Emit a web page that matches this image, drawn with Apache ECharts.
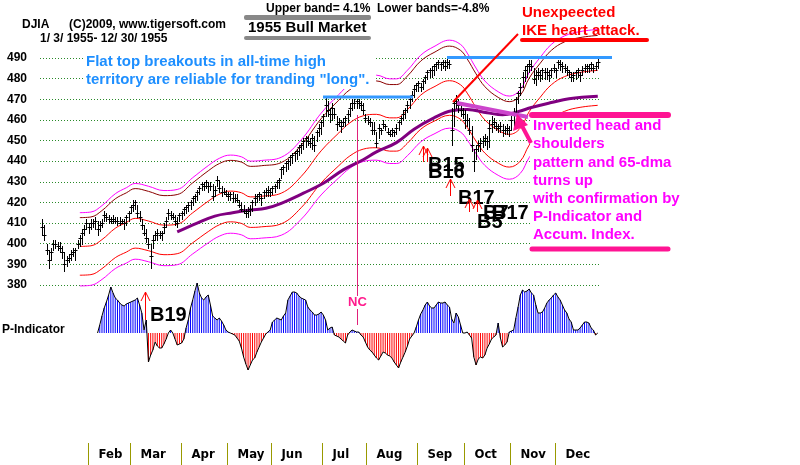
<!DOCTYPE html>
<html>
<head>
<meta charset="utf-8">
<script src="https://cdn.jsdelivr.net/npm/echarts@6/dist/echarts.min.js"></script>
<style>
  html, body { margin: 0; padding: 0; background: #fff; }
  #main { width: 800px; height: 465px; }
</style>
</head>
<body>
<div id="main"></div>
<script>
// DJIA 1955, one entry per trading day (index 0 = Jan 3)
var high = [
  412,409,400,397,398,402,402,401,401,399, 396,394,395,397,398,398,402,404,407,409,
  412,410,412,412,413,411,411,412,416,415, 414,413,414,413,413,413,412,412,414,416,
  419,421,421,419,416,412,409,407,403,400, 404,406,407,406,406,410,413,417,416,415,
  414,413,415,416,418,419,420,421,423,424, 426,428,430,430,431,430,430,429,428,433,
  431,428,427,426,425,425,425,424,424,421, 420,419,417,418,419,421,424,424,425,424,
  426,427,428,427,428,429,431,432,437,438, 440,441,443,444,445,446,448,449,451,452,
  452,451,453,452,455,458,460,463,471,469, 466,468,466,462,461,460,461,462,465,468,
  470,470,470,470,469,468,463,462,461,459, 459,454,458,456,460,458,456,455,456,455,
  458,460,462,465,466,469,471,474,477,478, 479,478,480,482,484,485,486,487,488,489,
  488,489,489,490,489,466,470,472,470,468, 466,465,463,461,457,446,448,450,451,452,
  453,452,460,462,461,459,458,459,458,457, 458,457,462,466,471,474,478,483,486,487,
  489,489,485,484,485,484,485,485,485,484, 485,487,485,489,489,488,487,486,484,483,
  483,484,485,483,486,487,487,487,488,487, 488,490
];
var low = [
  404,402,395,388,392,397,398,397,396,393, 387,389,391,392,394,392,398,399,400,404,
  407,405,407,408,407,404,406,408,411,411, 410,410,410,410,409,409,410,407,409,411,
  415,416,417,413,411,407,404,401,398,388, 398,402,402,403,402,405,408,412,412,412,
  409,408,411,412,414,415,416,417,419,420, 421,424,426,426,427,425,426,421,423,428,
  425,423,424,423,421,421,420,420,420,418, 416,415,413,413,414,416,419,420,421,419,
  422,423,423,423,424,425,427,427,432,434, 435,436,438,439,440,441,443,444,446,447,
  448,447,446,445,450,452,453,457,462,462, 459,460,461,455,457,454,457,457,459,462,
  465,466,466,466,465,463,459,458,457,453, 453,447,451,453,456,455,453,452,452,452,
  453,455,458,460,461,464,466,469,471,474, 474,474,475,478,480,481,481,482,484,485,
  484,485,484,485,485,448,457,466,464,462, 461,456,457,453,445,435,441,445,445,447,
  448,446,447,454,456,455,454,454,452,453, 453,452,455,457,463,468,472,476,479,481,
  483,484,478,477,480,479,480,480,480,479, 481,483,481,485,484,483,483,482,481,479,
  479,480,481,479,482,483,483,483,484,483, 484,485
];
var close = [
  408,404,397,392,396,400,400,399,398,396, 390,392,393,395,396,397,400,403,405,407,
  410,408,410,410,411,407,409,410,414,413, 412,411,412,411,411,410,411,410,413,415,
  418,419,420,415,413,409,405,403,400,394, 402,404,405,404,405,408,411,415,414,413,
  411,410,414,415,417,418,419,420,422,423, 425,427,429,428,430,428,428,423,426,431,
  427,425,425,424,423,424,422,422,421,419, 417,416,415,416,417,420,422,423,424,422,
  425,425,426,425,427,428,430,431,436,437, 439,440,442,443,444,445,447,448,450,451,
  450,449,451,448,454,456,459,462,467,465, 463,466,463,458,459,457,459,461,463,466,
  468,468,469,468,467,465,461,460,459,455, 455,449,456,455,458,457,454,453,455,454,
  456,459,461,463,465,467,470,472,475,477, 478,476,479,481,483,484,484,486,487,488,
  487,488,486,488,487,455,468,469,467,465, 463,460,460,455,448,440,446,448,449,450,
  451,450,456,458,459,457,456,457,455,455, 456,455,460,464,470,473,476,481,484,486,
  487,486,480,482,483,482,484,483,483,482, 484,485,484,488,487,486,485,484,483,481,
  482,483,484,482,484,485,486,485,487,485, 486,488
];

// band centre line and 65-dma, [day index, value]
var bandMid = [
  [17,398.7],[22,399],[27,402],[33,407.5],[38,410.3],[42,412.3],[48,411],[55,409],
  [61,409.5],[68,415],[75,420.6],[80,424],[85,425.5],[90,424.7],[94,422.7],[99,423],
  [108,424.5],[117,432.6],[126,445],[134,453.7],[139,458.6],[145,462],[151,462.7],
  [157,461],[160,461],[165,465],[171,472],[177,476],[184,479],[189,477],[192,473],
  [196,466],[200,460],[206,455],[211,453],[216,456],[220,464],[225,471],[230,477],
  [236,481],[243,483],[251,484]
];
var dma65 = [
  [61,405.7],[70,410],[78,413.4],[86,415],[94,416.3],[101,417.2],[108,419.6],[118,424.5],
  [127,429.3],[136,435.8],[145,440.7],[151,444.5],[160,449],[168,455.5],[177,461],
  [185,464.4],[192,465],[201,463.5],[208,462.5],[215,464],[221,466],[230,468.4],
  [238,470.3],[251,471.5]
];
var bandPct = [0.041, 0.035, -0.035, -0.048];
var bandColor = ['#ff00ff', '#8b0000', '#ff0000', '#ff00ff'];

// P-Indicator, starts at day 25
var pStart = 25;
var pInd = [
  0, 8, 17, 25, 31, 38, 46, 40, 35, 33,
  30, 28, 27, 29, 30, 31, 32, 33, 35, 28,
  20, 3, 13, -29, -22, -17, -9, -13, -15, -15,
  -11, -6, 0, 3, 0, -6, -12, -11, -10, -6,
  5, 13, 25, 33, 42, 50, 40, 35, 33, 36,
  38, 28, 17, 15, 13, 15, 12, 8, 3, 1,
  0, -1, -2, -5, -8, -15, -24, -31, -37, -32,
  -27, -25, -19, -14, -9, -5, -1, 1, 3, 11,
  13, 15, 14, 13, 17, 20, 33, 37, 41, 41,
  40, 37, 35, 34, 33, 26, 23, 21, 18, 18,
  19, 21, 18, 13, 3, 5, 6, -2, -3, -4,
  -6, -8, -10, -2, 1, 3, 2, 1, 1, -2,
  -4, -9, -14, -17, -19, -22, -25, -27, -23, -19,
  -20, -22, -23, -25, -29, -32, -35, -29, -24, -19,
  -13, -6, -3, 0, 6, 13, 19, 23, 28, 31,
  27, 25, 25, 28, 31, 30, 30, 31, 28, 26,
  14, 10, 20, 16, 8, 0, 0, 1, -2, -5,
  -24, -32, -26, -24, -25, -22, -15, -11, -6, -4,
  -2, 10, -5, -14, -12, -9, 1, 2, 3, 15,
  26, 38, 43, 41, 42, 44, 40, 38, 28, 20,
  20, 21, 25, 30, 33, 35, 38, 40, 36, 33,
  28, 23, 20, 14, 11, 3, 3, 3, 5, 8,
  11, 11, 10, 5, 3, -2, 0
];

var months = ['Feb','Mar','Apr','May','Jun','Jul','Aug','Sep','Oct','Nov','Dec'];
var monthStart = [21, 40, 63, 84, 104, 127, 147, 170, 191, 212, 232];
var priceTicks = { min: 380, max: 490, step: 10 };

var FONT = '"Liberation Sans", Arial, sans-serif';

var ohlc = high.map(function (h, i) { return [i, h, low[i], close[i]]; });

var series = [];
series.push({
  type: 'custom', xAxisIndex: 0, yAxisIndex: 0, z: 5,
  data: ohlc,
  encode: { x: 0, y: [1, 2] },
  clip: false,
  renderItem: function (params, api) {
    var i = api.value(0);
    var ph = api.coord([i, api.value(1)]);
    var pl = api.coord([i, api.value(2)]);
    var pc = api.coord([i, api.value(3)]);
    var x = Math.round(ph[0]) + 0.5;
    var yc = Math.round(pc[1]) + 0.5;
    return {
      type: 'group',
      children: [
        { type: 'line', shape: { x1: x, y1: Math.round(ph[1]), x2: x, y2: Math.round(pl[1]) + 1 },
          style: { stroke: '#000', lineWidth: 1 } },
        { type: 'line', shape: { x1: x - 2, y1: yc, x2: x + 2, y2: yc },
          style: { stroke: '#000', lineWidth: 1 } }
      ]
    };
  }
});

bandPct.concat([0]).forEach(function (pct, k) {
  series.push({
    type: 'line', xAxisIndex: 0, yAxisIndex: 0, z: 3,
    data: bandMid.map(function (d) { return [d[0], +(d[1] * (1 + pct)).toFixed(2)]; }),
    smooth: 0.4, showSymbol: false, clip: false, silent: true,
    lineStyle: { color: k < 4 ? bandColor[k] : '#ff0000', width: 1 }
  });
});

series.push({
  type: 'line', xAxisIndex: 0, yAxisIndex: 0, z: 4,
  data: dma65, smooth: 0.4, showSymbol: false, clip: false,
  lineStyle: { color: '#800080', width: 3 }
});

series.push({
  type: 'bar', xAxisIndex: 1, yAxisIndex: 1, barWidth: 1,
  data: pInd.map(function (v, k) {
    return { value: [pStart + k, v], itemStyle: { color: v >= 0 ? '#0000ff' : '#ff0000' } };
  })
});
series.push({
  type: 'line', xAxisIndex: 1, yAxisIndex: 1, z: 4,
  data: pInd.map(function (v, k) { return [pStart + k, v]; }),
  showSymbol: false, lineStyle: { color: '#000', width: 1 }
});

series.push({
  type: 'custom', xAxisIndex: 2, yAxisIndex: 2,
  data: monthStart.map(function (s) { return [s - 0.5, 0]; }),
  renderItem: function (params, api) {
    var p = api.coord([api.value(0), 0]);
    var cs = params.coordSys;
    var x = Math.round(p[0]) + 0.5;
    return {
      type: 'group',
      children: [
        { type: 'line', shape: { x1: x, y1: cs.y, x2: x, y2: cs.y + cs.height },
          style: { stroke: '#999900', lineWidth: 1 } },
        { type: 'text', style: { text: months[params.dataIndex], x: x + 10, y: cs.y + cs.height / 2 + 1,
          verticalAlign: 'middle', fill: '#000',
          font: 'bold 13px "Liberation Sans Narrow", "DejaVu Sans Condensed", sans-serif' } }
      ]
    };
  }
});

// annotations
function txt(t, x, y, size, color) {
  return { type: 'text', z: 100, style: { text: t, x: x, y: y, verticalAlign: 'middle',
    fill: color || '#000', font: 'bold ' + size + 'px ' + FONT } };
}
function seg(x1, y1, x2, y2, color, w, cap) {
  return { type: 'line', z: 100, shape: { x1: x1, y1: y1, x2: x2, y2: y2 },
    style: { stroke: color, lineWidth: w, lineCap: cap || 'butt' } };
}
function upArrow(x, y, len, color) {
  return [
    seg(x + 0.5, y, x + 0.5, y + len, color, 1),
    { type: 'polyline', z: 100, shape: { points: [[x - 4, y + 9], [x + 0.5, y], [x + 5, y + 9]] },
      style: { stroke: color, lineWidth: 1, fill: null } }
  ];
}
function whiteBox(x, y, w, h) {
  return { type: 'rect', z: 50, shape: { x: x, y: y, width: w, height: h }, style: { fill: '#fff' } };
}

var magenta = '#ff00ff';
var pink = '#ff1493';
var graphic = [
  whiteBox(84, 52, 292, 37),
  whiteBox(530, 118, 155, 126),
  txt('DJIA', 22, 25, 12),
  txt('(C)2009, www.tigersoft.com', 69, 25, 12),
  txt('1/ 3/ 1955- 12/ 30/ 1955', 40, 39, 12),
  txt('Upper band= 4.1%  Lower bands=-4.8%', 266, 9, 12),
  { type: 'rect', z: 100, shape: { x: 244, y: 15, width: 127, height: 5, r: 2 }, style: { fill: '#888' } },
  { type: 'rect', z: 100, shape: { x: 244, y: 36, width: 127, height: 4, r: 2 }, style: { fill: '#888' } },
  txt('1955 Bull Market', 248, 28, 15),
  txt('Flat top breakouts in all-time high', 86, 62, 15, '#1e8fff'),
  txt('territory are reliable for tranding "long".', 86, 80, 15, '#1e8fff'),
  seg(323, 97, 413, 97, '#3399ff', 3),
  seg(447, 57.5, 612, 57.5, '#3399ff', 3),
  txt('Unexpeected', 522, 13, 15, '#ff0000'),
  txt('IKE heart attack.', 522, 31, 15, '#ff0000'),
  seg(522, 40, 647, 40, '#ff0000', 4, 'round'),
  seg(453, 102, 518, 34, '#ff0000', 2),
  seg(457, 103, 528, 117, '#cc44cc', 4),
  seg(532, 115, 668, 115, pink, 6, 'round'),
  seg(531, 143, 521, 124, pink, 4),
  { type: 'polygon', z: 100, shape: { points: [[517, 114], [513, 131], [528, 125]] }, style: { fill: pink } },
  txt('Inverted head and', 533, 126, 15, magenta),
  txt('shoulders', 533, 144, 15, magenta),
  txt('pattern and 65-dma', 533, 163, 15, magenta),
  txt('turns up', 533, 181, 15, magenta),
  txt('with confirmation by', 533, 199, 15, magenta),
  txt('P-Indicator and', 533, 217, 15, magenta),
  txt('Accum. Index.', 533, 235, 15, magenta),
  seg(532, 249, 668, 249, pink, 5, 'round'),
  txt('B15', 428, 165, 20),
  txt('B16', 428, 172, 20),
  txt('B17', 458, 198, 20),
  txt('B7', 483, 213, 20),
  txt('B17', 492, 213, 20),
  txt('B5', 477, 222, 20),
  txt('B19', 150, 315, 20),
  seg(357.5, 115, 357.5, 296, '#e0207a', 1),
  seg(357.5, 309, 357.5, 325, '#e0207a', 1),
  txt('NC', 348, 302, 13, '#ff1a8c'),
  txt('P-Indicator', 2, 330, 12)
]
  .concat(upArrow(145, 292, 28, '#ff0000'))
  .concat(upArrow(423, 146, 16, '#ff0000'))
  .concat(upArrow(427, 148, 14, '#ff0000'))
  .concat(upArrow(450, 179, 17, '#ff0000'))
  .concat(upArrow(469, 199, 13, '#ff0000'))
  .concat(upArrow(477, 200, 12, '#ff0000'));

var xBase = { type: 'value', min: -1, max: 252, show: false };

var chart = echarts.init(document.getElementById('main'), null, { renderer: 'canvas' });
chart.setOption({
  animation: false,
  backgroundColor: '#fff',
  grid: [
    { left: 40, right: 200, top: 58, bottom: 180 },
    { left: 40, right: 200, top: 283, height: 100 },
    { left: 40, right: 200, top: 443, height: 22 }
  ],
  xAxis: [
    Object.assign({ gridIndex: 0 }, xBase),
    Object.assign({ gridIndex: 1 }, xBase),
    Object.assign({ gridIndex: 2 }, xBase)
  ],
  yAxis: [
    {
      gridIndex: 0, type: 'value', min: priceTicks.min, max: priceTicks.max, interval: priceTicks.step,
      axisLine: { show: false }, axisTick: { show: false },
      axisLabel: { margin: 13, color: '#000', fontSize: 12, fontWeight: 'bold', fontFamily: FONT },
      splitLine: { lineStyle: { color: '#2a8a2a', width: 1, type: [1, 2] } }
    },
    { gridIndex: 1, type: 'value', min: -50, max: 50, show: false, splitLine: { show: false } },
    { gridIndex: 2, type: 'value', min: 0, max: 1, show: false, splitLine: { show: false } }
  ],
  series: series,
  graphic: graphic
});
</script>
</body>
</html>
